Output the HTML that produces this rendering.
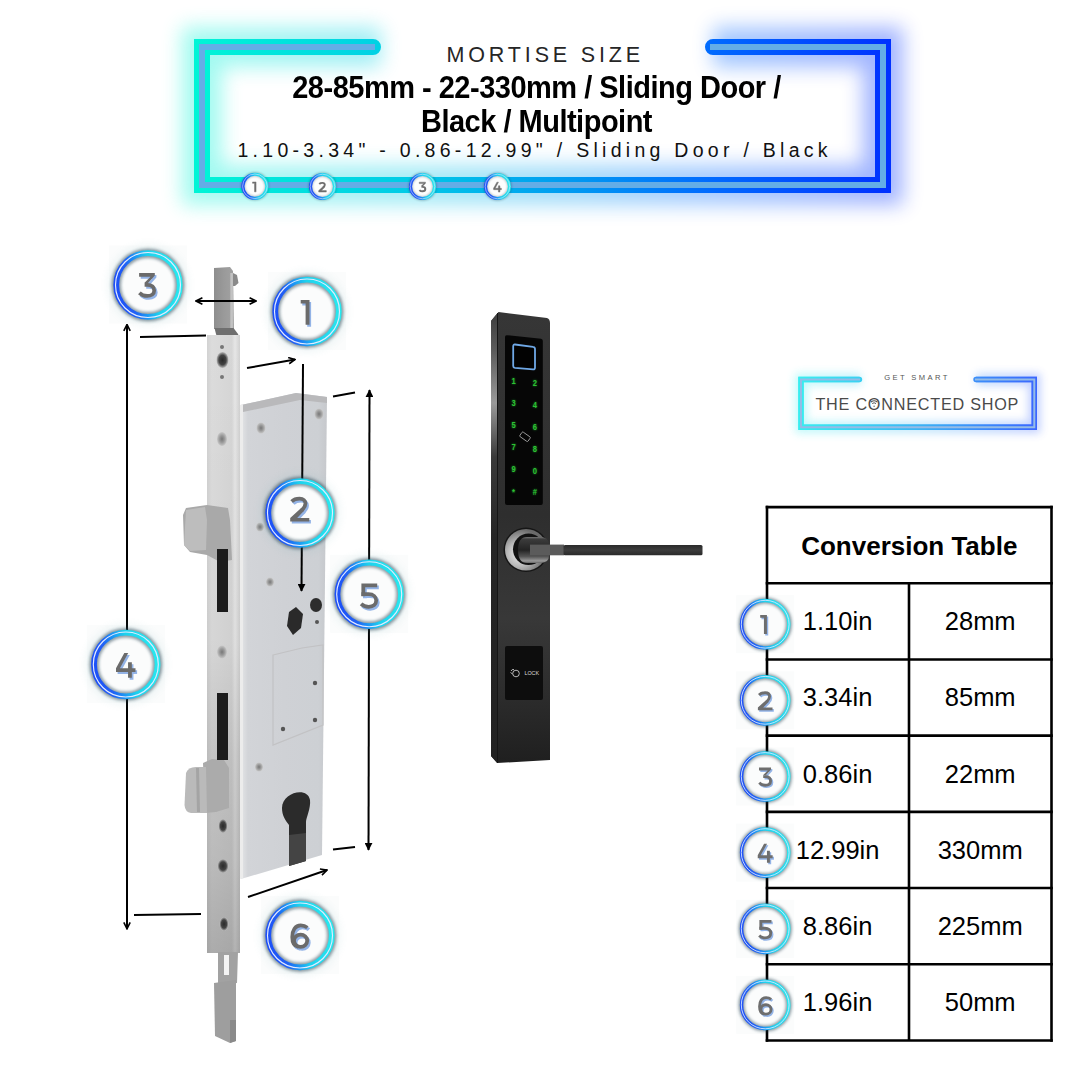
<!DOCTYPE html>
<html><head><meta charset="utf-8">
<style>
html,body{margin:0;padding:0;width:1080px;height:1080px;overflow:hidden;background:#fff;font-family:"Liberation Sans",sans-serif;}
.a{position:absolute;white-space:nowrap;}
#t1{left:446.5px;top:43.3px;font-size:21.5px;letter-spacing:3.85px;color:#262626;}
#t2{left:0;width:1073px;top:70.5px;text-align:center;font-size:29px;font-weight:bold;line-height:32.3px;color:#000;letter-spacing:-0.5px;transform:scaleY(1.05);transform-origin:0 0;}
#t3{left:237.5px;top:139px;font-size:19.5px;letter-spacing:4.28px;color:#111;}
table{position:absolute;left:766px;top:506px;border-collapse:collapse;}
td{border:2.5px solid #000;width:140px;height:73.5px;text-align:center;font-size:25px;color:#000;padding:0;}
td.h{font-weight:bold;font-size:24.5px;}
</style></head><body>
<svg id="svg" width="1080" height="1080" viewBox="0 0 1080 1080" style="position:absolute;left:0;top:0">
<defs>
 <linearGradient id="fg" gradientUnits="userSpaceOnUse" x1="194" y1="0" x2="891" y2="0">
  <stop offset="0" stop-color="#00f5d6"/>
  <stop offset="0.3" stop-color="#00cce6"/>
  <stop offset="0.55" stop-color="#0098f2"/>
  <stop offset="0.75" stop-color="#0068ff"/>
  <stop offset="1" stop-color="#0030ff"/>
 </linearGradient>
 <filter id="glow" x="-20%" y="-50%" width="140%" height="200%"><feGaussianBlur stdDeviation="10"/></filter>
 <filter id="glow2" x="-20%" y="-50%" width="140%" height="200%"><feGaussianBlur stdDeviation="5"/></filter>
 <linearGradient id="ring" x1="0" y1="0.6" x2="1" y2="0.4">
  <stop offset="0" stop-color="#1f4ff8"/>
  <stop offset="0.22" stop-color="#2060f5"/>
  <stop offset="0.42" stop-color="#1aa0f4"/>
  <stop offset="0.58" stop-color="#1ed2ee"/>
  <stop offset="1" stop-color="#28e8ee"/>
 </linearGradient>
 <filter id="cglow" x="-30%" y="-30%" width="160%" height="160%"><feGaussianBlur stdDeviation="1.7"/></filter>
 <filter id="cblur" x="-20%" y="-20%" width="140%" height="140%"><feGaussianBlur stdDeviation="0.45"/></filter>
 <filter id="sqglow" x="-30%" y="-30%" width="160%" height="160%"><feGaussianBlur stdDeviation="3"/></filter>
 <filter id="kglow" x="-50%" y="-20%" width="200%" height="140%"><feGaussianBlur stdDeviation="0.9"/></filter>
 <filter id="cglowt" x="-30%" y="-30%" width="160%" height="160%"><feGaussianBlur stdDeviation="1.4"/></filter>
 <g id="circ">
  <circle r="37" fill="none" stroke="#6aaab0" stroke-width="10" opacity="0.07" filter="url(#sqglow)"/>
  <circle r="31" fill="#fbfcfc"/>
  <circle r="31.8" fill="none" stroke="#1c3a4c" stroke-width="9.5" filter="url(#cglow)" opacity="0.5"/>
  <circle r="31.8" fill="none" stroke="url(#ring)" stroke-width="5.8" filter="url(#cblur)"/>
  <circle r="32.5" fill="none" stroke="#e2eaff" stroke-width="1.15"/>
 </g>
 <g id="scirc">
  <circle r="11.5" fill="#fcfdfd"/>
  <circle r="12" fill="none" stroke="#1c3a4c" stroke-width="4" filter="url(#cglow2s)" opacity="0.35"/>
  <circle r="12" fill="none" stroke="url(#ring)" stroke-width="3.1"/>
  <circle r="12.3" fill="none" stroke="#dbe8ff" stroke-width="0.6"/>
 </g>
 <g id="tcirc">
  <circle r="23" fill="#fbfcfc"/>
  <circle r="23.65" fill="none" stroke="#1c3a4c" stroke-width="6" filter="url(#cglowt)" opacity="0.5"/>
  <circle r="23.65" fill="none" stroke="url(#ring)" stroke-width="3.4"/>
  <circle r="23.9" fill="none" stroke="#d4e4ff" stroke-width="0.9"/>
 </g>
 <filter id="cglow2s" x="-30%" y="-30%" width="160%" height="160%"><feGaussianBlur stdDeviation="1"/></filter>
 <radialGradient id="cfill2" cx="0.5" cy="0.5" r="0.5">
  <stop offset="0" stop-color="#ffffff"/><stop offset="0.75" stop-color="#f8f9fa"/><stop offset="1" stop-color="#cfd6d8"/>
 </radialGradient>
</defs>

<!-- faint squares behind circles -->
<g fill="#fbfcfc">
 <rect x="109" y="245.5" width="78" height="78"/>
 <rect x="268" y="272.0" width="78" height="78"/>
 <rect x="330.2" y="554.8" width="78" height="78"/>
 <rect x="86.8" y="625.0" width="78" height="78"/>
 <rect x="261" y="896.0" width="78" height="78"/>
 <rect x="736.2" y="595.2" width="58" height="58"/>
 <rect x="736.2" y="671.3" width="58" height="58"/>
 <rect x="736.2" y="747.5" width="58" height="58"/>
 <rect x="736.2" y="823.6" width="58" height="58"/>
 <rect x="736.2" y="899.8" width="58" height="58"/>
 <rect x="736.2" y="975.9" width="58" height="58"/>
</g>
<!-- HEADER FRAME -->
<g id="frame">
 <path d="M381,47 H202 V185 H883 V47 H713" fill="none" stroke="url(#fg)" stroke-width="40" opacity="0.36" filter="url(#glow)"/>
 <path d="M373,47 H202 V185 H883 V47 H713" fill="none" stroke="url(#fg)" stroke-width="16" stroke-linecap="round"/>
 <path d="M373,47 H202 V185 H883 V47 H713" fill="none" stroke="url(#fg)" stroke-width="16" stroke-linecap="butt"/>
 <path d="M375,47 H202 V185 H883 V47 H710" fill="none" stroke="#64ade6" stroke-width="6"/>
</g>


<!-- LOCK DIAGRAM -->
<defs>
 <linearGradient id="fp" x1="0" y1="0" x2="1" y2="0">
  <stop offset="0" stop-color="#d2d2d2"/><stop offset="0.15" stop-color="#dcdcdc"/><stop offset="0.75" stop-color="#d6d6d6"/><stop offset="0.85" stop-color="#e6e6e6"/><stop offset="1" stop-color="#d0d0d0"/>
 </linearGradient>
 <linearGradient id="fpv" x1="0" y1="0" x2="0" y2="1">
  <stop offset="0" stop-color="#000" stop-opacity="0"/><stop offset="0.5" stop-color="#000" stop-opacity="0.03"/><stop offset="0.68" stop-color="#000" stop-opacity="0.11"/><stop offset="0.85" stop-color="#000" stop-opacity="0.15"/><stop offset="1" stop-color="#000" stop-opacity="0.22"/>
 </linearGradient>
 <linearGradient id="bd" x1="0" y1="0" x2="1" y2="0">
  <stop offset="0" stop-color="#e4e5e7"/><stop offset="0.08" stop-color="#d2d4d8"/><stop offset="0.5" stop-color="#cfd1d5"/><stop offset="0.9" stop-color="#cdd0d4"/><stop offset="1" stop-color="#c6c8cc"/>
 </linearGradient>
 <linearGradient id="latch" x1="0" y1="0" x2="1" y2="0">
  <stop offset="0" stop-color="#8e8e8e"/><stop offset="0.5" stop-color="#9a9a9a"/><stop offset="1" stop-color="#a2a2a2"/>
 </linearGradient>
 <radialGradient id="hole" cx="0.5" cy="0.5" r="0.5"><stop offset="0" stop-color="#2a2a2a"/><stop offset="0.6" stop-color="#444"/><stop offset="1" stop-color="#bbb"/></radialGradient>
 <radialGradient id="screw" cx="0.5" cy="0.5" r="0.5"><stop offset="0" stop-color="#777"/><stop offset="0.5" stop-color="#9a9a9a"/><stop offset="1" stop-color="#c8c8c8"/></radialGradient>
</defs>
<g id="lock">
 <!-- top latch -->
 <path d="M214,268 L230,267 L233,271 L234,329 L214,329 Z" fill="url(#latch)"/>
 <path d="M233,273 L237,275 L238.5,283 L235,286 L233,286 Z" fill="#8a8a8a"/>
 <rect x="230.3" y="273" width="2.6" height="55" fill="#c9c9c9" opacity="0.85"/>
 <path d="M214.5,328 L233.5,328 L238,334 L240,339 L218,339 L216,334 Z" fill="#6f6f6f"/>
 <!-- faceplate -->
 <rect x="207" y="335" width="33" height="618" fill="url(#fp)"/>
 <rect x="207" y="335" width="33" height="618" fill="url(#fpv)"/>
 <!-- body -->
 <path d="M241,405 L296,393 L327,397 L322,855 L241,879 Z" fill="url(#bd)"/>
 <path d="M241,405 L296,393 L327,397 L327,403 L300,400 L243,412 Z" fill="#b9b9bb"/>
 <path d="M240,405 L243,404 L243,878 L240,879 Z" fill="#ececec"/>
 <!-- hooks -->
 <path d="M186,508 L207,505 L228,508 L230,520 L232,560 L220,562 L207,555 L190,552 L184,545 L183,515 Z" fill="#a9a9a9"/>
 <path d="M186,510 L205,507 L207,520 L206,550 L190,551 L184,545 Z" fill="#bdbdbd"/>
 <path d="M203,763 L212,759 L224,760 L229,768 L229,808 L216,812 L205,813 Z" fill="#ababab"/>
 <path d="M186,773 Q188,767 196,767 L206,767 L207,813 L191,813 Q185,812 184.5,805 Z" fill="#bababa"/>
 <path d="M196,768 L199,768 L200,812 L197,812 Z" fill="#a4a4a4"/>
 <!-- slots -->
 <rect x="217" y="549" width="11" height="63" fill="#1c1c1c"/>
 <rect x="217" y="693" width="11" height="67" fill="#1c1c1c"/>
 <!-- faceplate screws -->
 <ellipse cx="222.5" cy="360" rx="6" ry="8" fill="url(#hole)"/>
 <circle cx="222" cy="347" r="2" fill="#777"/><circle cx="222" cy="377" r="2" fill="#777"/>
 <ellipse cx="222" cy="439" rx="5" ry="7" fill="url(#screw)"/>
 <ellipse cx="222" cy="652" rx="5" ry="6.5" fill="url(#screw)"/>
 <ellipse cx="223" cy="826" rx="4.5" ry="7" fill="url(#hole)"/>
 <ellipse cx="223" cy="866" rx="5.5" ry="7" fill="url(#hole)"/>
 <ellipse cx="224" cy="924" rx="4.5" ry="7" fill="url(#hole)"/>
 <!-- body screws -->
 <ellipse cx="261" cy="428" rx="4.5" ry="5.5" fill="url(#screw)"/>
 <ellipse cx="319" cy="414" rx="4.5" ry="5.5" fill="url(#screw)"/>
 <ellipse cx="270" cy="582" rx="4" ry="4.5" fill="url(#screw)"/>
 <ellipse cx="259" cy="767" rx="4" ry="4.5" fill="url(#screw)"/>
 <ellipse cx="260" cy="527" rx="4" ry="4.5" fill="url(#screw)"/>
 <!-- spindle -->
 <path d="M296,607 L303,614 L301,628 L293,635 L287,626 L289,612 Z" fill="#2a2a2a"/>
 <ellipse cx="316" cy="605" rx="6" ry="7" fill="#2d2d2d"/>
 <circle cx="317" cy="622" r="2" fill="#555"/>
 <!-- raised plate -->
 <path d="M273,655 L302,648 L323,645 L323,725 L273,745 Z" fill="none" stroke="#c2c2c4" stroke-width="1.2"/>
 <circle cx="315" cy="683" r="2.2" fill="#555"/><circle cx="315" cy="720" r="2.2" fill="#555"/><circle cx="283" cy="729" r="2.2" fill="#555"/>
 <!-- cylinder hole -->
 <path d="M282,808 C282,792 308,786 310,800 C311,808 306,818 306,822 L306,861 L289,866 L289,825 C285,820 282,815 282,808 Z" fill="#2b2b2b"/>
 <path d="M289,835 L306,833 L306,861 L289,866 Z" fill="#444"/>
 <!-- bottom -->
 <path d="M218,952 L238,952 L237,983 L218,985 Z" fill="#a2a2a2"/>
 <rect x="224" y="955" width="5" height="20" fill="#f4f4f4"/>
 <path d="M214,983 L236,980 L236,1041 L230,1043 L215,1036 Z" fill="#9e9e9e"/>
 <path d="M230,1020 L236,1020 L236,1041 L230,1043 Z" fill="#8a8a8a"/>
</g>

<!-- SMART LOCK HANDLE -->
<defs>
 <linearGradient id="plate" x1="0" y1="0" x2="0" y2="1">
  <stop offset="0" stop-color="#363636"/><stop offset="0.45" stop-color="#2e2e2e"/><stop offset="0.68" stop-color="#383838"/><stop offset="0.85" stop-color="#2c2c2c"/><stop offset="1" stop-color="#1f1f1f"/>
 </linearGradient>
 <linearGradient id="bevel" x1="0" y1="0" x2="0" y2="1">
  <stop offset="0" stop-color="#3e3e3e"/><stop offset="0.08" stop-color="#5a5a5a"/><stop offset="0.2" stop-color="#9a9a9a"/><stop offset="0.32" stop-color="#3a3a3a"/><stop offset="0.5" stop-color="#262626"/><stop offset="1" stop-color="#222"/>
 </linearGradient>
 <radialGradient id="chrome" cx="0.35" cy="0.6" r="0.6">
  <stop offset="0" stop-color="#f2f2f2"/><stop offset="0.5" stop-color="#b8b8b8"/><stop offset="1" stop-color="#6a6a6a"/>
 </radialGradient>
 <radialGradient id="knob" cx="0.4" cy="0.4" r="0.6">
  <stop offset="0" stop-color="#5a5a5a"/><stop offset="0.7" stop-color="#2a2a2a"/><stop offset="1" stop-color="#111"/>
 </radialGradient>
 <linearGradient id="cyl" x1="0" y1="0" x2="0" y2="1">
  <stop offset="0" stop-color="#777"/><stop offset="0.08" stop-color="#3c3c3c"/><stop offset="0.5" stop-color="#232323"/><stop offset="0.75" stop-color="#555"/><stop offset="0.92" stop-color="#9a9a9a"/><stop offset="1" stop-color="#666"/>
 </linearGradient>
 <linearGradient id="lever" x1="0" y1="0" x2="0" y2="1">
  <stop offset="0" stop-color="#2a2a2a"/><stop offset="0.5" stop-color="#3c3c3c"/><stop offset="1" stop-color="#2a2a2a"/>
 </linearGradient>
</defs>
<g id="handle">
 <path d="M491,321 L498.5,312 L547,318 Q550,319 550,323 L550,760 L497,763 L491,756 Z" fill="url(#plate)"/>
 <path d="M491,321 L497.5,313 L497.5,763 L491,756 Z" fill="url(#bevel)"/>
 <path d="M497.5,313 L497.5,763" stroke="#151515" stroke-width="1"/>
 <path d="M505,337 Q505,335 507,335.2 L541,338.8 Q542.8,339 542.8,341 L542.8,503 Q542.8,505 541,505 L507,505 Q505,505 505,503 Z" fill="#060606"/>
 <path d="M515,344.5 L533,346.8 Q535,347 535,349 L535,367.5 Q535,369.5 533,369.4 L515,367.9 Q513.2,367.7 513.2,366 L513.2,346.3 Q513.2,344.3 515,344.5 Z" fill="#020202" stroke="#6fa8e6" stroke-width="1.8"/>
 <g font-family="Liberation Sans" font-size="9.5" font-weight="bold" fill="#30e040" text-anchor="middle" filter="url(#kglow)" opacity="0.55">
  <g transform="translate(513.6,0) scale(0.8,1)"><text x="0" y="384.5">1</text><text x="0" y="406.5">3</text><text x="0" y="428.5">5</text><text x="0" y="450.5">7</text><text x="0" y="472.5">9</text><text x="0" y="495.5">*</text></g>
  <g transform="translate(534.8,0) scale(0.8,1)"><text x="0" y="386.5">2</text><text x="0" y="408.5">4</text><text x="0" y="430">6</text><text x="0" y="452">8</text><text x="0" y="474">0</text><text x="0" y="495.5">#</text></g>
 </g>
 <g font-family="Liberation Sans" font-size="9.5" font-weight="bold" fill="#2cc433" text-anchor="middle">
  <g transform="translate(513.6,0) scale(0.8,1)"><text x="0" y="384.5">1</text><text x="0" y="406.5">3</text><text x="0" y="428.5">5</text><text x="0" y="450.5">7</text><text x="0" y="472.5">9</text><text x="0" y="495.5">*</text></g>
  <g transform="translate(534.8,0) scale(0.8,1)"><text x="0" y="386.5">2</text><text x="0" y="408.5">4</text><text x="0" y="430">6</text><text x="0" y="452">8</text><text x="0" y="474">0</text><text x="0" y="495.5">#</text></g>
 </g>
 <rect x="520" y="434" width="10" height="5.5" rx="1" transform="rotate(35 525 436.8)" fill="none" stroke="#9a9a9a" stroke-width="0.9"/>
 <!-- LOCK button -->
 <path d="M505,648 Q505,646 507,646 L541,646 Q543,646 543,648 L543,698 Q543,700 541,700 L507,700 Q505,700 505,698 Z" fill="#0d0d0d"/>
 <g fill="none" stroke="#ddd" stroke-width="0.8"><circle cx="516" cy="673.5" r="3.3"/><path d="M511,671 Q512,669 514,669.5 M512.5,674 L510.5,672.5"/></g>
 <text x="524.4" y="675.4" font-family="Liberation Sans" font-size="5.4" fill="#dcdcdc">LOCK</text>
 <!-- rosette -->
 <ellipse cx="526" cy="549.8" rx="22.5" ry="22.2" fill="#161616"/>
 <ellipse cx="526" cy="549.8" rx="21" ry="20.8" fill="url(#chrome)"/>
 <ellipse cx="528.5" cy="549.3" rx="15.5" ry="15.8" fill="#121212"/>
 <path d="M527,537 L540,537 Q549,537 549,545 L549,556 Q549,563 540,563 L527,563 Q518,563 518,550 Q518,537 527,537 Z" fill="url(#cyl)"/>
 <rect x="530" y="544.6" width="34" height="10.7" fill="#5b5b5b"/>
 <rect x="563.5" y="545" width="139" height="10.3" rx="1.5" fill="url(#lever)"/>
</g>


<!-- LOGO -->
<defs>
 <linearGradient id="lg" gradientUnits="userSpaceOnUse" x1="798" y1="0" x2="1037" y2="0">
  <stop offset="0" stop-color="#38eef0"/><stop offset="0.5" stop-color="#3cb4f4"/><stop offset="1" stop-color="#3a66ff"/>
 </linearGradient>
 <filter id="lglow" x="-20%" y="-60%" width="140%" height="220%"><feGaussianBlur stdDeviation="4"/></filter>
</defs>
<g id="logo">
 <path d="M861,379.5 H801 V427.2 H1034.3 V379.5 H976" fill="none" stroke="url(#lg)" stroke-width="12" opacity="0.3" filter="url(#lglow)"/>
 <path d="M859.5,379.5 H801 V427.2 H1034.3 V379.5 H976" fill="none" stroke="url(#lg)" stroke-width="5.4" stroke-linecap="round"/>
 <path d="M859.5,379.5 H801 V427.2 H1034.3 V379.5 H976" fill="none" stroke="url(#lg)" stroke-width="5.4"/>
 <path d="M860,379.5 H801 V427.2 H1034.3 V379.5 H975" fill="none" stroke="#94bce6" stroke-width="2"/>
 <text x="917" y="380" font-family="Liberation Sans" font-size="7.6" letter-spacing="2.4" fill="#555" text-anchor="middle">GET SMART</text>
 <text x="917.3" y="409.5" font-family="Liberation Sans" font-size="16.2" fill="#4a4a4a" text-anchor="middle" letter-spacing="0.78">THE CONNECTED SHOP</text>
 <g fill="none" stroke="#555" stroke-linecap="round">
  <path d="M871.3,401.8 Q874.1,399.6 876.9,401.8" stroke-width="1.1"/>
  <path d="M872.5,403.3 Q874.1,402 875.7,403.3" stroke-width="1"/>
 </g>
 <circle cx="874.1" cy="406.3" r="0.7" fill="#666"/>

</g>

<!-- DIMENSION LINES -->
<defs>
 <marker id="ao" viewBox="0 0 10 10" refX="9" refY="5" markerWidth="4" markerHeight="4" orient="auto-start-reverse"><path d="M1,1 L9,5 L1,9" fill="none" stroke="#000" stroke-width="2"/></marker>
 <marker id="af" viewBox="0 0 10 10" refX="9" refY="5" markerWidth="4" markerHeight="4" orient="auto-start-reverse"><path d="M0,0 L10,5 L0,10 Z" fill="#000"/></marker>
</defs>
<g stroke="#000" stroke-width="2" fill="none">
 <line x1="196" y1="301" x2="256" y2="301" marker-start="url(#ao)" marker-end="url(#ao)"/>
 <line x1="127" y1="324.5" x2="127" y2="928.8" marker-start="url(#ao)" marker-end="url(#ao)"/>
 <line x1="140" y1="337" x2="206" y2="335.5"/>
 <line x1="134" y1="915" x2="201" y2="914"/>
 <line x1="247" y1="368" x2="295" y2="359.5" marker-end="url(#ao)"/>
 <line x1="303" y1="364" x2="301.5" y2="591" marker-end="url(#af)"/>
 <line x1="333" y1="396.5" x2="355" y2="392.5"/>
 <line x1="369.5" y1="390" x2="368.5" y2="850" marker-start="url(#af)" marker-end="url(#af)"/>
 <line x1="333" y1="849.5" x2="355" y2="847"/>
 <line x1="248" y1="897" x2="327" y2="870" marker-end="url(#ao)"/>
</g>

<!-- small circles on frame -->
<g>
 <use href="#scirc" x="254.9" y="186.3"/>
 <use href="#scirc" x="322.5" y="186.5"/>
 <use href="#scirc" x="422.5" y="186.5"/>
 <use href="#scirc" x="497.5" y="186.5"/>
 <g transform="translate(254.30,186.90) scale(0.4)"><path d="M-4.4,-12.4 L4.4,-12.4 L4.4,12.4 L0.5,12.4 L0.5,-8.9 L-4.4,-8.9 Z" fill="#6e6e6e" stroke="#6e6e6e" stroke-width="1.1"/></g>
 <g transform="translate(322.50,187.10) scale(0.4)"><path d="M-8.1,-7.7 C-6.2,-9.6 -3.3,-10.55 -0.2,-10.55 C3.7,-10.55 5.7,-8.4 5.7,-5.6 C5.7,-3.3 4.6,-1.7 2.6,0.4 L1.9,1.1" fill="none" stroke="#6e6e6e" stroke-width="4.85"/><path d="M-9.55,12.4 L9.55,12.4 L9.55,8.75 L-2.6,8.75 L4.3,1.6 L1.45,-1.25 L-9.55,8.75 Z" fill="#6e6e6e" stroke="#6e6e6e" stroke-width="1.1"/></g>
 <g transform="translate(422.50,187.10) scale(0.4)"><path d="M-8.1,-12.4 L7.6,-12.4 L7.6,-9.9 L0.9,-2.5 L-2.9,-2.5 L3.3,-8.7 L-8.1,-8.7 Z" fill="#6e6e6e" stroke="#6e6e6e" stroke-width="1.1"/><path d="M-2.6,-0.6 L0.2,-0.6 C4.9,-0.6 7.0,2.0 7.0,5.0 C7.0,8.6 4.0,10.6 0.0,10.6 C-3.4,10.6 -6.0,9.3 -7.8,7.5" fill="none" stroke="#6e6e6e" stroke-width="4.85"/></g>
 <g transform="translate(497.50,187.10) scale(0.4)"><path d="M-1.45,-12.4 L2.45,-12.4 L-5.85,2.8 L-9.75,2.8 Z M-9.75,2.8 L9.75,2.8 L9.75,6.5 L-9.75,6.5 Z M2.3,-3.2 L6.1,-3.2 L6.1,12.4 L2.3,12.4 Z" fill="#6e6e6e" stroke="#6e6e6e" stroke-width="1.1"/></g>
</g>
</svg>
<svg id="svg2" width="1080" height="1080" viewBox="0 0 1080 1080" style="position:absolute;left:0;top:0;z-index:3">
<!-- BIG CIRCLES -->
<g>
 <use href="#circ" x="148" y="285"/>
 <use href="#circ" x="307" y="311.5"/>
 <use href="#circ" x="300" y="513"/>
 <use href="#circ" x="369.2" y="594.3"/>
 <use href="#circ" x="125.8" y="664.5"/>
 <use href="#circ" x="300" y="935.5"/>
 <g transform="translate(148.80,287.40) scale(1.0)"><path d="M-8.1,-12.4 L7.6,-12.4 L7.6,-9.9 L0.9,-2.5 L-2.9,-2.5 L3.3,-8.7 L-8.1,-8.7 Z" fill="#93b3e6"/><path d="M-2.6,-0.6 L0.2,-0.6 C4.9,-0.6 7.0,2.0 7.0,5.0 C7.0,8.6 4.0,10.6 0.0,10.6 C-3.4,10.6 -6.0,9.3 -7.8,7.5" fill="none" stroke="#93b3e6" stroke-width="3.75"/></g><g transform="translate(147.20,285.40) scale(1.0)"><path d="M-8.1,-12.4 L7.6,-12.4 L7.6,-9.9 L0.9,-2.5 L-2.9,-2.5 L3.3,-8.7 L-8.1,-8.7 Z" fill="#6b6b6b"/><path d="M-2.6,-0.6 L0.2,-0.6 C4.9,-0.6 7.0,2.0 7.0,5.0 C7.0,8.6 4.0,10.6 0.0,10.6 C-3.4,10.6 -6.0,9.3 -7.8,7.5" fill="none" stroke="#6b6b6b" stroke-width="3.75"/></g>
 <g transform="translate(306.70,314.30) scale(1.0)"><path d="M-4.4,-12.4 L4.4,-12.4 L4.4,12.4 L0.5,12.4 L0.5,-8.9 L-4.4,-8.9 Z" fill="#93b3e6"/></g><g transform="translate(305.10,312.30) scale(1.0)"><path d="M-4.4,-12.4 L4.4,-12.4 L4.4,12.4 L0.5,12.4 L0.5,-8.9 L-4.4,-8.9 Z" fill="#6b6b6b"/></g>
 <g transform="translate(301.35,511.20) scale(1.0)"><path d="M-8.1,-7.7 C-6.2,-9.6 -3.3,-10.55 -0.2,-10.55 C3.7,-10.55 5.7,-8.4 5.7,-5.6 C5.7,-3.3 4.6,-1.7 2.6,0.4 L1.9,1.1" fill="none" stroke="#93b3e6" stroke-width="3.75"/><path d="M-9.55,12.4 L9.55,12.4 L9.55,8.75 L-2.6,8.75 L4.3,1.6 L1.45,-1.25 L-9.55,8.75 Z" fill="#93b3e6"/></g><g transform="translate(299.75,509.20) scale(1.0)"><path d="M-8.1,-7.7 C-6.2,-9.6 -3.3,-10.55 -0.2,-10.55 C3.7,-10.55 5.7,-8.4 5.7,-5.6 C5.7,-3.3 4.6,-1.7 2.6,0.4 L1.9,1.1" fill="none" stroke="#6b6b6b" stroke-width="3.75"/><path d="M-9.55,12.4 L9.55,12.4 L9.55,8.75 L-2.6,8.75 L4.3,1.6 L1.45,-1.25 L-9.55,8.75 Z" fill="#6b6b6b"/></g>
 <g transform="translate(370.60,597.85) scale(1.0)"><path d="M-7.6,-12.4 L8.2,-12.4 L8.2,-8.7 L-3.8,-8.7 L-3.8,0.4 L-7.6,0.4 Z" fill="#93b3e6"/><path d="M-7.6,-1.65 L-0.5,-1.65 C4.6,-1.65 7.2,1.4 7.2,4.7 C7.2,8.6 4.3,10.95 -0.3,10.95 C-3.6,10.95 -6.1,9.8 -7.9,8.1" fill="none" stroke="#93b3e6" stroke-width="3.75"/></g><g transform="translate(369.00,595.85) scale(1.0)"><path d="M-7.6,-12.4 L8.2,-12.4 L8.2,-8.7 L-3.8,-8.7 L-3.8,0.4 L-7.6,0.4 Z" fill="#6b6b6b"/><path d="M-7.6,-1.65 L-0.5,-1.65 C4.6,-1.65 7.2,1.4 7.2,4.7 C7.2,8.6 4.3,10.95 -0.3,10.95 C-3.6,10.95 -6.1,9.8 -7.9,8.1" fill="none" stroke="#6b6b6b" stroke-width="3.75"/></g>
 <g transform="translate(127.35,667.40) scale(1.0)"><path d="M-1.45,-12.4 L2.45,-12.4 L-5.85,2.8 L-9.75,2.8 Z M-9.75,2.8 L9.75,2.8 L9.75,6.5 L-9.75,6.5 Z M2.3,-3.2 L6.1,-3.2 L6.1,12.4 L2.3,12.4 Z" fill="#93b3e6"/></g><g transform="translate(125.75,665.40) scale(1.0)"><path d="M-1.45,-12.4 L2.45,-12.4 L-5.85,2.8 L-9.75,2.8 Z M-9.75,2.8 L9.75,2.8 L9.75,6.5 L-9.75,6.5 Z M2.3,-3.2 L6.1,-3.2 L6.1,12.4 L2.3,12.4 Z" fill="#6b6b6b"/></g>
 <g transform="translate(301.35,938.10) scale(1.0)"><ellipse cx="0.85" cy="4.7" rx="6.6" ry="6.15" fill="none" stroke="#93b3e6" stroke-width="3.75"/><path d="M7.6,-8.5 C5.6,-10.1 3.5,-10.7 1.0,-10.7 C-4.6,-10.7 -7.5,-5.6 -7.5,0.8 C-7.5,6.5 -5.2,10.0 -1.5,10.6" fill="none" stroke="#93b3e6" stroke-width="3.75"/></g><g transform="translate(299.75,936.10) scale(1.0)"><ellipse cx="0.85" cy="4.7" rx="6.6" ry="6.15" fill="none" stroke="#6b6b6b" stroke-width="3.75"/><path d="M7.6,-8.5 C5.6,-10.1 3.5,-10.7 1.0,-10.7 C-4.6,-10.7 -7.5,-5.6 -7.5,0.8 C-7.5,6.5 -5.2,10.0 -1.5,10.6" fill="none" stroke="#6b6b6b" stroke-width="3.75"/></g>
</g>
<!-- TABLE -->
<g stroke="#000" stroke-width="2.6"><line x1="765.7" y1="507.10" x2="1052.8" y2="507.10"/>
<line x1="765.7" y1="583.29" x2="1052.8" y2="583.29"/>
<line x1="765.7" y1="659.48" x2="1052.8" y2="659.48"/>
<line x1="765.7" y1="735.67" x2="1052.8" y2="735.67"/>
<line x1="765.7" y1="811.86" x2="1052.8" y2="811.86"/>
<line x1="765.7" y1="888.05" x2="1052.8" y2="888.05"/>
<line x1="765.7" y1="964.24" x2="1052.8" y2="964.24"/>
<line x1="765.7" y1="1040.43" x2="1052.8" y2="1040.43"/>
<line x1="767" y1="505.80" x2="767" y2="1041.73"/>
<line x1="1051.5" y1="505.80" x2="1051.5" y2="1041.73"/>
<line x1="909" y1="583.29" x2="909" y2="1040.43"/></g>
<g font-family="Liberation Sans" font-size="25.5" fill="#000" text-anchor="middle"><text x="909.3" y="555.20" font-weight="bold" font-size="26">Conversion Table</text>
<text x="837.6" y="630.29">1.10in</text><text x="980.2" y="630.29">28mm</text>
<text x="837.6" y="706.48">3.34in</text><text x="980.2" y="706.48">85mm</text>
<text x="837.6" y="782.67">0.86in</text><text x="980.2" y="782.67">22mm</text>
<text x="837.6" y="858.86">12.99in</text><text x="980.2" y="858.86">330mm</text>
<text x="837.6" y="935.05">8.86in</text><text x="980.2" y="935.05">225mm</text>
<text x="837.6" y="1011.24">1.96in</text><text x="980.2" y="1011.24">50mm</text></g>
<!-- TABLE CIRCLES -->
<g>
 <use href="#tcirc" x="765.2" y="624.2"/>
 <use href="#tcirc" x="765.2" y="700.3"/>
 <use href="#tcirc" x="765.2" y="776.5"/>
 <use href="#tcirc" x="765.2" y="852.6"/>
 <use href="#tcirc" x="765.2" y="928.8"/>
 <use href="#tcirc" x="765.2" y="1004.9"/>
 <g transform="translate(764.85,625.96) scale(0.766)"><path d="M-4.4,-12.4 L4.4,-12.4 L4.4,12.4 L0.5,12.4 L0.5,-8.9 L-4.4,-8.9 Z" fill="#93b3e6"/></g><g transform="translate(763.55,624.50) scale(0.766)"><path d="M-4.4,-12.4 L4.4,-12.4 L4.4,12.4 L0.5,12.4 L0.5,-8.9 L-4.4,-8.9 Z" fill="#6e6e6e"/></g>
 <g transform="translate(766.50,702.30) scale(0.766)"><path d="M-8.1,-7.7 C-6.2,-9.6 -3.3,-10.55 -0.2,-10.55 C3.7,-10.55 5.7,-8.4 5.7,-5.6 C5.7,-3.3 4.6,-1.7 2.6,0.4 L1.9,1.1" fill="none" stroke="#93b3e6" stroke-width="3.75"/><path d="M-9.55,12.4 L9.55,12.4 L9.55,8.75 L-2.6,8.75 L4.3,1.6 L1.45,-1.25 L-9.55,8.75 Z" fill="#93b3e6"/></g><g transform="translate(765.20,700.84) scale(0.766)"><path d="M-8.1,-7.7 C-6.2,-9.6 -3.3,-10.55 -0.2,-10.55 C3.7,-10.55 5.7,-8.4 5.7,-5.6 C5.7,-3.3 4.6,-1.7 2.6,0.4 L1.9,1.1" fill="none" stroke="#6e6e6e" stroke-width="3.75"/><path d="M-9.55,12.4 L9.55,12.4 L9.55,8.75 L-2.6,8.75 L4.3,1.6 L1.45,-1.25 L-9.55,8.75 Z" fill="#6e6e6e"/></g>
 <g transform="translate(766.50,778.54) scale(0.766)"><path d="M-8.1,-12.4 L7.6,-12.4 L7.6,-9.9 L0.9,-2.5 L-2.9,-2.5 L3.3,-8.7 L-8.1,-8.7 Z" fill="#93b3e6"/><path d="M-2.6,-0.6 L0.2,-0.6 C4.9,-0.6 7.0,2.0 7.0,5.0 C7.0,8.6 4.0,10.6 0.0,10.6 C-3.4,10.6 -6.0,9.3 -7.8,7.5" fill="none" stroke="#93b3e6" stroke-width="3.75"/></g><g transform="translate(765.20,777.08) scale(0.766)"><path d="M-8.1,-12.4 L7.6,-12.4 L7.6,-9.9 L0.9,-2.5 L-2.9,-2.5 L3.3,-8.7 L-8.1,-8.7 Z" fill="#6e6e6e"/><path d="M-2.6,-0.6 L0.2,-0.6 C4.9,-0.6 7.0,2.0 7.0,5.0 C7.0,8.6 4.0,10.6 0.0,10.6 C-3.4,10.6 -6.0,9.3 -7.8,7.5" fill="none" stroke="#6e6e6e" stroke-width="3.75"/></g>
 <g transform="translate(766.50,854.68) scale(0.766)"><path d="M-1.45,-12.4 L2.45,-12.4 L-5.85,2.8 L-9.75,2.8 Z M-9.75,2.8 L9.75,2.8 L9.75,6.5 L-9.75,6.5 Z M2.3,-3.2 L6.1,-3.2 L6.1,12.4 L2.3,12.4 Z" fill="#93b3e6"/></g><g transform="translate(765.20,853.22) scale(0.766)"><path d="M-1.45,-12.4 L2.45,-12.4 L-5.85,2.8 L-9.75,2.8 Z M-9.75,2.8 L9.75,2.8 L9.75,6.5 L-9.75,6.5 Z M2.3,-3.2 L6.1,-3.2 L6.1,12.4 L2.3,12.4 Z" fill="#6e6e6e"/></g>
 <g transform="translate(766.50,930.92) scale(0.766)"><path d="M-7.6,-12.4 L8.2,-12.4 L8.2,-8.7 L-3.8,-8.7 L-3.8,0.4 L-7.6,0.4 Z" fill="#93b3e6"/><path d="M-7.6,-1.65 L-0.5,-1.65 C4.6,-1.65 7.2,1.4 7.2,4.7 C7.2,8.6 4.3,10.95 -0.3,10.95 C-3.6,10.95 -6.1,9.8 -7.9,8.1" fill="none" stroke="#93b3e6" stroke-width="3.75"/></g><g transform="translate(765.20,929.46) scale(0.766)"><path d="M-7.6,-12.4 L8.2,-12.4 L8.2,-8.7 L-3.8,-8.7 L-3.8,0.4 L-7.6,0.4 Z" fill="#6e6e6e"/><path d="M-7.6,-1.65 L-0.5,-1.65 C4.6,-1.65 7.2,1.4 7.2,4.7 C7.2,8.6 4.3,10.95 -0.3,10.95 C-3.6,10.95 -6.1,9.8 -7.9,8.1" fill="none" stroke="#6e6e6e" stroke-width="3.75"/></g>
 <g transform="translate(766.60,1007.26) scale(0.766)"><ellipse cx="0.85" cy="4.7" rx="6.6" ry="6.15" fill="none" stroke="#93b3e6" stroke-width="3.75"/><path d="M7.6,-8.5 C5.6,-10.1 3.5,-10.7 1.0,-10.7 C-4.6,-10.7 -7.5,-5.6 -7.5,0.8 C-7.5,6.5 -5.2,10.0 -1.5,10.6" fill="none" stroke="#93b3e6" stroke-width="3.75"/></g><g transform="translate(765.30,1005.80) scale(0.766)"><ellipse cx="0.85" cy="4.7" rx="6.6" ry="6.15" fill="none" stroke="#6e6e6e" stroke-width="3.75"/><path d="M7.6,-8.5 C5.6,-10.1 3.5,-10.7 1.0,-10.7 C-4.6,-10.7 -7.5,-5.6 -7.5,0.8 C-7.5,6.5 -5.2,10.0 -1.5,10.6" fill="none" stroke="#6e6e6e" stroke-width="3.75"/></g>
</g>
</svg>

<div class="a" id="t1">MORTISE SIZE</div>
<div class="a" id="t2">28-85mm - 22-330mm / Sliding Door /<br>Black / Multipoint</div>
<div class="a" id="t3">1.10-3.34" - 0.86-12.99" / Sliding Door / Black</div>



</body></html>
